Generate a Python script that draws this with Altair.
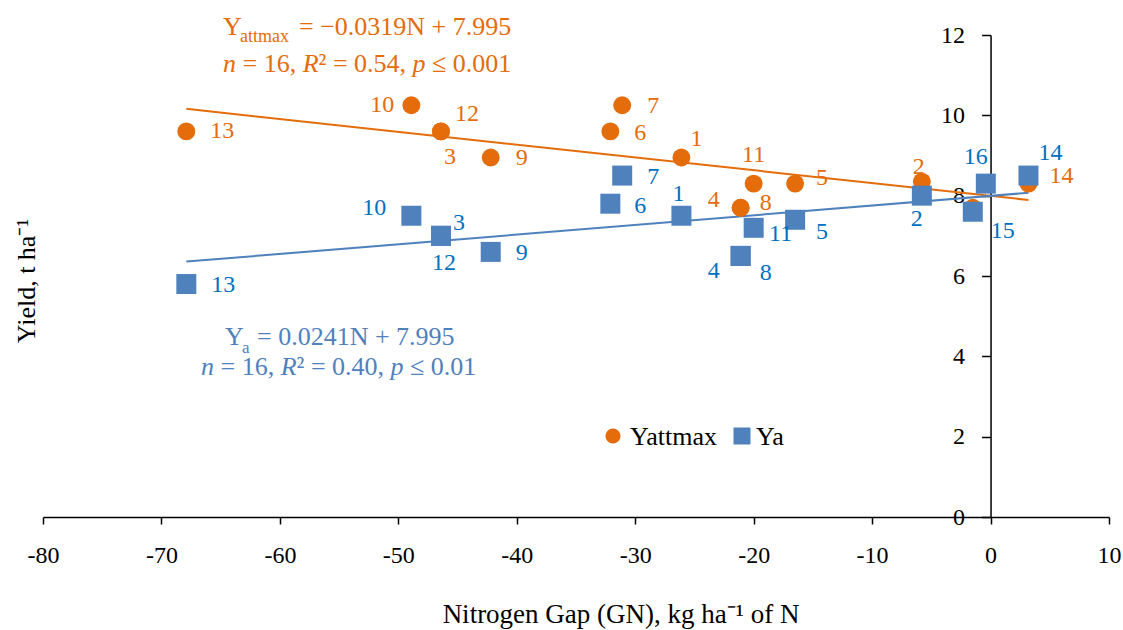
import altair as alt
import pandas as pd

# Site numbers, nitrogen gap (kg N/ha) and the two yield estimates (t/ha)
site = list(range(1, 17))
gap = [-26.1, -5.8, -46.4, -21.1, -16.5, -32.1, -31.1, -21.1,
       -42.2, -48.9, -20.0, -46.4, -67.9, 3.2, -1.5, -0.4]
yattmax = [8.95, 8.35, 9.6, 7.7, 8.3, 9.6, 10.25, 7.7,
           8.95, 10.25, 8.3, 9.6, 9.6, 8.3, 7.7, 8.3]
ya = [7.5, 8.0, 7.0, 6.5, 7.4, 7.8, 8.5, 6.5,
      6.6, 7.5, 7.2, 7.0, 5.8, 8.5, 7.6, 8.3]

# Fitted lines stated in the annotations: (slope, intercept)
fit_attmax = (-0.0319, 7.995)
fit_a = (0.0241, 7.995)

x_ticks = list(range(-80, 11, 10))
y_ticks = list(range(0, 13, 2))

ORANGE = "#E46C0A"
BLUE = "#4F81BD"
BLUE_TXT = "#0070C0"
FONT = "Liberation Serif"

W, H = 1066, 482
X_MIN, X_MAX = -80, 10
px_per_unit = W / (X_MAX - X_MIN)

# Pixel nudges for the point labels (dx, dy)
lab_attmax = {1: (15, -19), 2: (-3, -15), 3: (9, 26), 4: (-27, -8), 5: (27, -6),
              6: (30, 2), 7: (31, 1), 8: (25, -5), 9: (31, 0), 10: (-29, 0),
              11: (0, -29), 12: (26, -17), 13: (36, 0), 14: (33, -8)}
lab_a = {1: (-3, -22), 2: (-5, 23), 3: (18, -13), 4: (-27, 15), 5: (27, 12),
         6: (30, 2), 7: (31, 1), 8: (25, 17), 9: (31, 1), 10: (-37, -8),
         11: (27, 6), 12: (3, 27), 13: (37, 1), 14: (22, -23), 15: (30, 19),
         16: (-10, -27)}

df_o = pd.DataFrame({"site": site, "gap": gap, "yield": yattmax})
df_b = pd.DataFrame({"site": site, "gap": gap, "yield": ya})

xs = alt.Scale(domain=[X_MIN, X_MAX], nice=False)
ys = alt.Scale(domain=[0, 12], nice=False)

axis_style = dict(title=None, grid=False, labelFontSize=24, labelFont=FONT,
                  labelColor="black", domainColor="black", tickColor="black",
                  domainWidth=1.5, tickWidth=1.5, labelExpr="'' + datum.value")
x_axis = alt.Axis(values=x_ticks, tickSize=7, labelPadding=19,
                  labelFlush=False, **axis_style)
y_axis = alt.Axis(values=y_ticks, tickSize=9, labelPadding=17,
                  offset=-(0 - X_MIN) * px_per_unit, **axis_style)

base_x = alt.X("gap:Q", scale=xs, axis=x_axis)
base_y = alt.Y("yield:Q", scale=ys, axis=y_axis)


def fit_line(fit, color):
    lo, hi = min(gap), max(gap)
    d = pd.DataFrame({"gap": [lo, hi],
                      "yield": [fit[0] * lo + fit[1], fit[0] * hi + fit[1]]})
    return alt.Chart(d).mark_line(color=color, strokeWidth=2).encode(
        x=base_x, y=base_y)


pts_o = alt.Chart(df_o).mark_point(shape="circle", filled=True, size=320,
                                   color=ORANGE, opacity=1).encode(x=base_x, y=base_y)
pts_b = alt.Chart(df_b).mark_point(shape="square", filled=True, size=400,
                                   color=BLUE, opacity=1).encode(x=base_x, y=base_y)


def point_labels(df, offsets, color):
    layers = []
    for s, (dx, dy) in offsets.items():
        layers.append(
            alt.Chart(df[df["site"] == s]).mark_text(
                dx=dx, dy=dy, fontSize=24, font=FONT, color=color,
                align="center", baseline="middle"
            ).encode(x="gap:Q", y="yield:Q", text="site:N")
        )
    return layers


one = pd.DataFrame({"k": [0]})


def txt(s, x, y, size=26, color="black", italic=False, angle=0,
        align="left", baseline="alphabetic"):
    kw = dict(text=s, fontSize=size, font=FONT, color=color, align=align,
              baseline=baseline)
    if italic:
        kw["fontStyle"] = "italic"
    if angle:
        kw["angle"] = angle
    return alt.Chart(one).mark_text(**kw).encode(x=alt.value(x), y=alt.value(y))


# Regression equations (subscripts and italic statistics set piece by piece)
eq_attmax = [
    txt("Y", 180, 0, color=ORANGE),
    txt("attmax", 197, 7, size=18, color=ORANGE),
    txt("= \u22120.0319N + 7.995", 256, 0, color=ORANGE),
    txt("n", 180, 37, color=ORANGE, italic=True),
    txt("= 16,", 199.5, 37, color=ORANGE),
    txt("R", 259.7, 37, color=ORANGE, italic=True),
    txt("\u00b2 = 0.54,", 275.6, 37, color=ORANGE),
    txt("p", 369.6, 37, color=ORANGE, italic=True),
    txt("\u2264 0.001", 389.1, 37, color=ORANGE),
]
eq_a = [
    txt("Y", 182, 310, color=BLUE),
    txt("a", 199, 318, size=17, color=BLUE),
    txt("= 0.0241N + 7.995", 214, 310, color=BLUE),
    txt("n", 158, 340, color=BLUE, italic=True),
    txt("= 16,", 177.5, 340, color=BLUE),
    txt("R", 237.7, 340, color=BLUE, italic=True),
    txt("\u00b2 = 0.40,", 253.6, 340, color=BLUE),
    txt("p", 347.6, 340, color=BLUE, italic=True),
    txt("\u2264 0.01", 367.1, 340, color=BLUE),
]

# Legend
legend = [
    alt.Chart(one).mark_point(shape="circle", filled=True, size=230, color=ORANGE,
                              opacity=1).encode(x=alt.value(570), y=alt.value(401)),
    txt("Yattmax", 587, 402, size=26, baseline="middle"),
    alt.Chart(one).mark_point(shape="square", filled=True, size=289, color=BLUE,
                              opacity=1).encode(x=alt.value(699), y=alt.value(401)),
    txt("Ya", 713, 402, size=26, baseline="middle"),
]

# Axis titles
titles = [
    txt("Nitrogen Gap (GN), kg ha\u207b\u00b9 of N", 578, 588, size=27,
        align="center"),
    txt("Yield, t ha\u207b\u00b9", -8, 246, size=26, angle=270, align="center"),
]

chart = alt.layer(
    fit_line(fit_attmax, ORANGE),
    fit_line(fit_a, BLUE),
    pts_o,
    pts_b,
    *point_labels(df_o, lab_attmax, ORANGE),
    *point_labels(df_b, lab_a, BLUE_TXT),
    *eq_attmax,
    *eq_a,
    *legend,
    *titles,
).properties(
    width=W, height=H,
    autosize=alt.AutoSizeParams(type="none"),
    padding={"left": 43, "top": 35, "right": 14, "bottom": 113},
    background="white",
).configure_view(stroke=None)

chart.save("out.html", embed_options={"renderer": "svg", "actions": False})
